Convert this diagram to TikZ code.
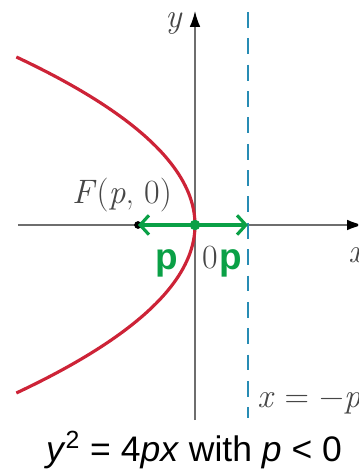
\documentclass[tikz,border=0pt]{standalone}
\usepackage{fontspec}
\usepackage{tikz}
\usetikzlibrary{arrows.meta}
\newfontfamily\capfont{Liberation Sans}
\definecolor{parared}{RGB}{205,35,55}
\definecolor{dirteal}{RGB}{40,140,180}
\definecolor{pengreen}{RGB}{10,160,70}
\definecolor{axgrey}{RGB}{110,110,110}
\definecolor{txtgrey}{RGB}{70,70,70}

\begin{document}
\begin{tikzpicture}[x=0.02cm,y=0.02cm,>=Latex,font=\fontsize{19.3}{22}\selectfont]
  \tikzstyle{axis}=[draw=axgrey,line width=0.9pt]
  \tikzstyle{lbl}=[text=txtgrey,inner sep=0pt]
  \tikzstyle{pen}=[pengreen,line width=1.8pt]
  \tikzstyle{pentxt}=[pengreen,inner sep=0pt,font=\capfont\bfseries\fontsize{21}{21}\selectfont]
  \useasboundingbox (-195,-251) rectangle (163,225);
  \clip (-195,-251) rectangle (163,225);
  \coordinate (O) at (0,0);
  \coordinate (xl) at (-177,0);
  \coordinate (xr) at (168,0);
  \coordinate (yb) at (0,-195);
  \coordinate (yt) at (0,214);
  \coordinate (dt) at (53,213);
  \coordinate (db) at (53,-193);
  \coordinate (D) at (53,0);
  \coordinate (F) at (-57,0);
  \draw[axis,-{Latex[color=black,length=9pt,width=6pt]}] (xl) -- (xr);
  \draw[axis,-{Latex[color=black,length=9pt,width=6pt]}] (yb) -- (yt);
  \draw[dirteal,line width=1.7pt,dash pattern=on 9pt off 6pt] (dt) -- (db);
  \draw[parared,line width=1.8pt] plot[smooth,samples=61,domain=-16.8:16.8] ({-\x*\x/1.58},{10*\x});
  \fill (F) circle (2.2pt);
  \draw[pen,-{Straight Barb[length=5pt,width=11pt]}] (O) -- (F);
  \draw[pen,-{Straight Barb[length=5pt,width=11pt]}] (O) -- (D);
  \fill[pengreen] (O) circle (3pt);
  \node[lbl] (ylab) at (-21,202) {\textit{y}};
  \node[lbl,anchor=west] (xlab) at (153,-30) {\textit{x}};
  \node[lbl] (zero) at (15,-33) {0};
  \node[lbl] (flab) at (-73,30) {\textit{F}(\textit{p}, 0)};
  \node[lbl,anchor=west] (dlab) at (62,-178) {\textit{x} = −\textit{p}};
  \node[pentxt] (p1) at (-28,-38) {p};
  \node[pentxt] (p2) at (36,-38) {p};
  \node[font=\capfont\fontsize{20.2}{22}\selectfont] (cap) at (-1,-225) {\textit{y}\textsuperscript{2} = 4\textit{px} with \textit{p} < 0};
\end{tikzpicture}
\end{document}
